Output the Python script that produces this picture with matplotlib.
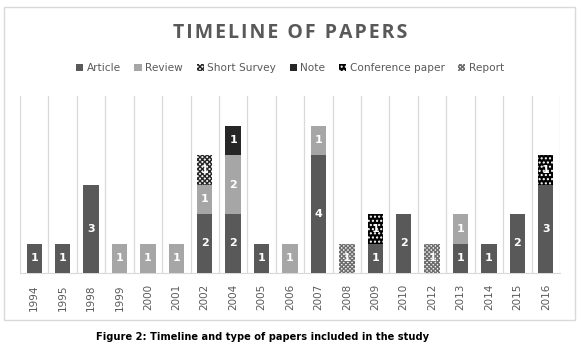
import matplotlib
matplotlib.use("Agg")
import matplotlib.pyplot as plt
from matplotlib.patches import Patch, Rectangle
import numpy as np

years = ["1994", "1995", "1998", "1999", "2000", "2001", "2002", "2004", "2005", "2006",
         "2007", "2008", "2009", "2010", "2012", "2013", "2014", "2015", "2016"]
article = [1, 1, 3, 0, 0, 0, 2, 2, 1, 0, 4, 0, 1, 2, 0, 1, 1, 2, 3]
review = [0, 0, 0, 1, 1, 1, 1, 2, 0, 1, 1, 0, 0, 0, 0, 1, 0, 0, 0]
short_survey = [0, 0, 0, 0, 0, 0, 1, 0, 0, 0, 0, 0, 0, 0, 0, 0, 0, 0, 0]
note = [0, 0, 0, 0, 0, 0, 0, 1, 0, 0, 0, 0, 0, 0, 0, 0, 0, 0, 0]
conference = [0, 0, 0, 0, 0, 0, 0, 0, 0, 0, 0, 0, 1, 0, 0, 0, 0, 0, 1]
report = [0, 0, 0, 0, 0, 0, 0, 0, 0, 0, 0, 1, 0, 0, 1, 0, 0, 0, 0]

series = [
    ("Article", article, dict(facecolor="#595959", edgecolor="#595959", hatch=None)),
    ("Review", review, dict(facecolor="#a6a6a6", edgecolor="#a6a6a6", hatch=None)),
    ("Short Survey", short_survey, dict(facecolor="#f0f0f0", edgecolor="#262626", hatch="xxxxxxx")),
    ("Note", note, dict(facecolor="#262626", edgecolor="#262626", hatch=None)),
    ("Conference paper", conference, dict(facecolor="black", edgecolor="white", hatch="....")),
    ("Report", report, dict(facecolor="#f4f4f4", edgecolor="#6e6e6e", hatch="xxxxxxxx")),
]

plt.rcParams["hatch.linewidth"] = 1.0

fig = plt.figure(figsize=(5.8, 3.51), dpi=100)
fig.patch.set_facecolor("white")
fig.add_artist(Rectangle((4 / 580, 1 - 320 / 351), 571 / 580, 313 / 351,
                         transform=fig.transFigure, facecolor="white",
                         edgecolor="#d9d9d9", linewidth=1.0, zorder=0))

ax = fig.add_axes([20 / 580, 1 - 273 / 351, 540 / 580, 177 / 351])
ax.set_facecolor("none")
x = np.arange(len(years))
bottom = np.zeros(len(years))
width = 0.54
handles = []
for name, vals, st in series:
    vals = np.array(vals, dtype=float)
    ax.bar(x, vals, width, bottom=bottom, facecolor=st["facecolor"],
           edgecolor=st["edgecolor"], hatch=st["hatch"], linewidth=0, zorder=3)
    for xi, v, b in zip(x, vals, bottom):
        if v > 0:
            ax.text(xi, b + v / 2, f"{int(v)}", ha="center", va="center", color="white",
                    fontsize=8, fontweight="bold", zorder=5)
    bottom += vals
    handles.append(Patch(facecolor=st["facecolor"], edgecolor=st["edgecolor"],
                         hatch=st["hatch"], linewidth=0, label=name))

ax.set_xlim(-0.5, len(years) - 0.5)
ax.set_ylim(0, 6)
for b in np.arange(-0.5, len(years), 1.0):
    ax.axvline(b, color="#d9d9d9", linewidth=0.9, zorder=1)
ax.set_yticks([])
for s in ["top", "left", "right"]:
    ax.spines[s].set_visible(False)
ax.spines["bottom"].set_color("#d9d9d9")
ax.set_xticks(x)
ax.set_xticklabels(years, rotation=90, fontsize=7.5, color="#595959")
ax.tick_params(axis="x", length=0, pad=8)

title = "TIMELINE OF PAPERS"
fig.text(0.5, 1 - 33 / 351, "\u200a".join(title), ha="center", va="center",
         fontsize=14, fontweight="bold", color="#595959", family=["Open Sans", "DejaVu Sans"])

fig.legend(handles=handles, loc="center", bbox_to_anchor=(0.5, 1 - 68 / 351), ncol=6,
           frameon=False, fontsize=7.6, handlelength=0.7, handleheight=0.7,
           handletextpad=0.3, columnspacing=1.3, labelcolor="#595959")

fig.text(0.452, 1 - 337 / 351, "Figure 2: Timeline and type of papers included in the study",
         ha="center", va="center", fontsize=7.1, fontweight="bold", color="black")

fig.savefig("out.png", dpi=100, facecolor="white")
